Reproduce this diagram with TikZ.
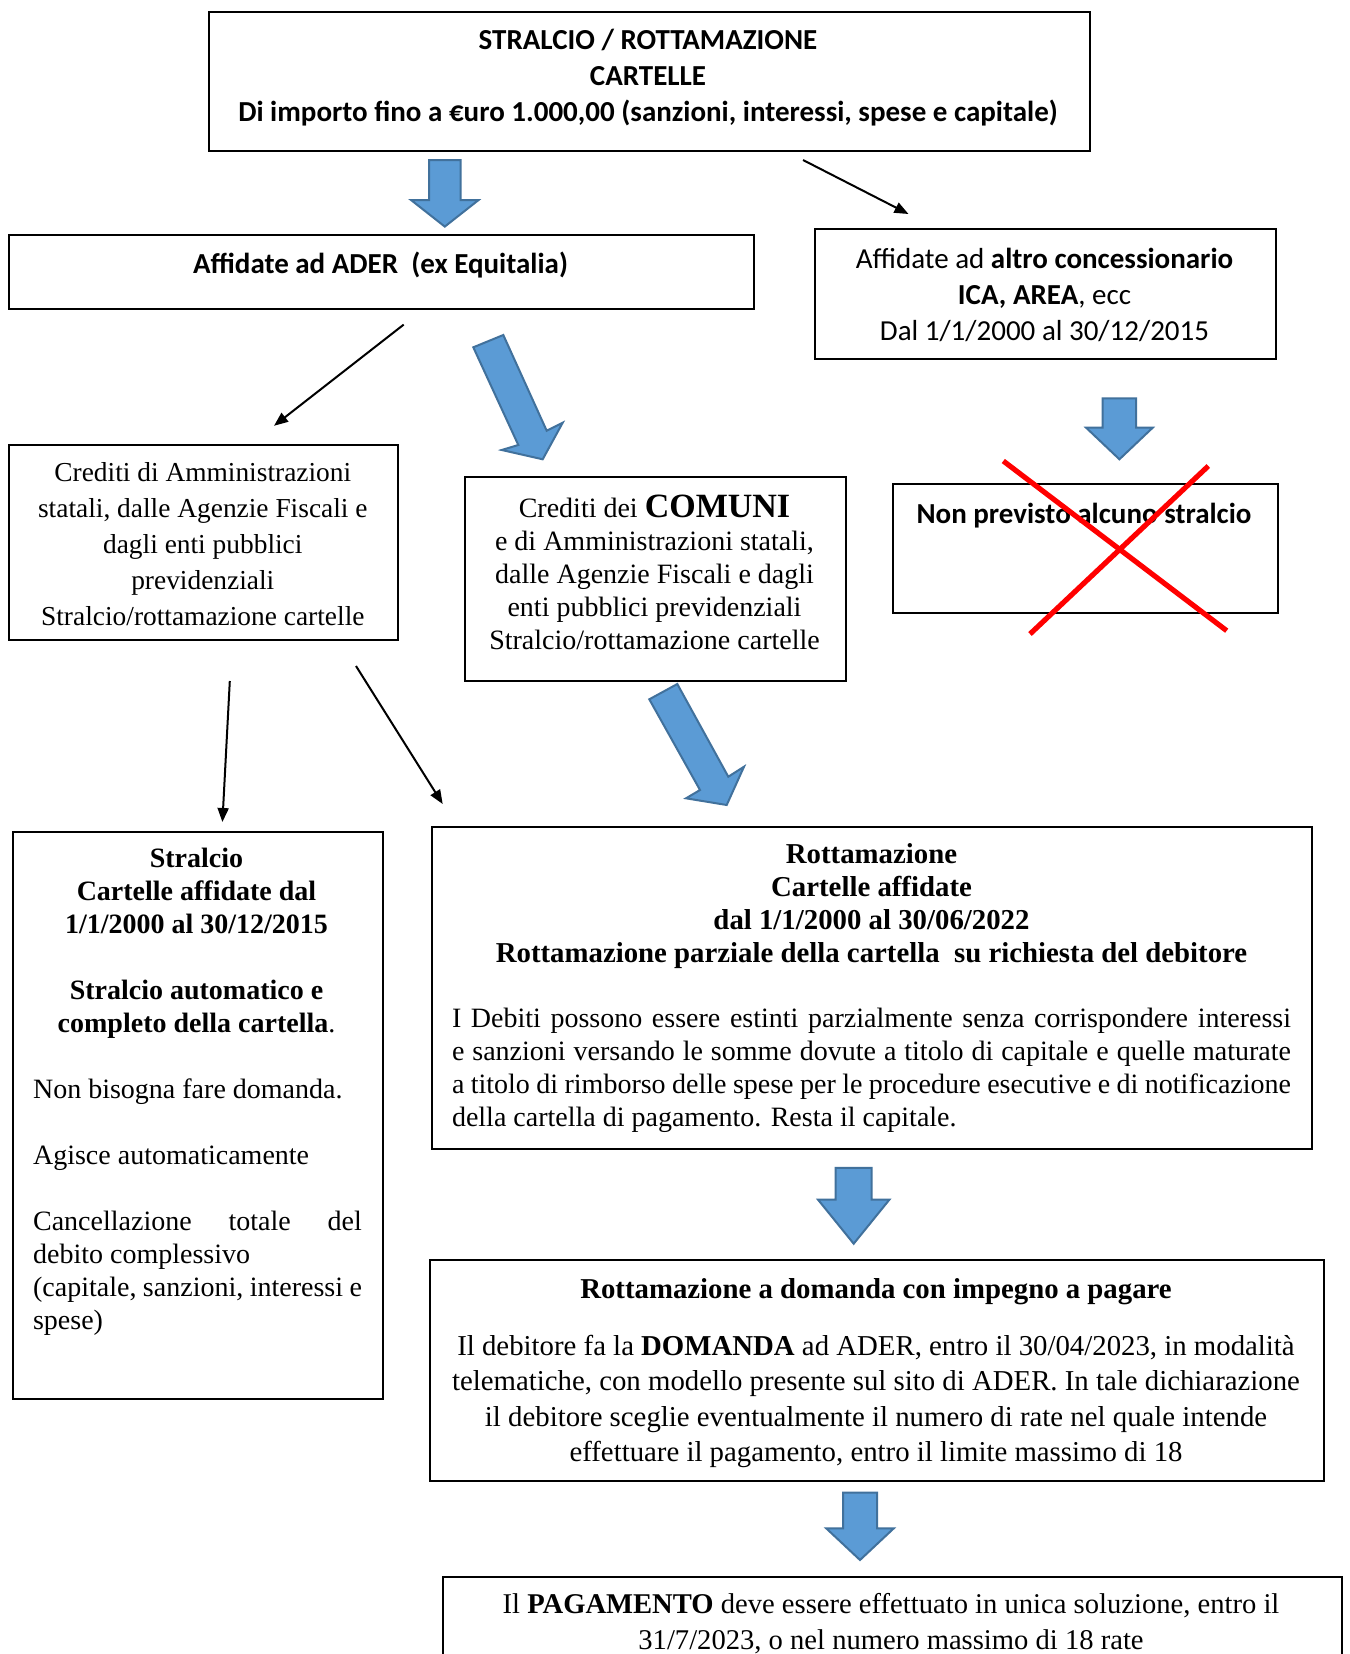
\documentclass[tikz,border=0pt]{standalone}
\usepackage{fontspec}
\setmainfont{Liberation Serif}
\newfontfamily\calfont{Carlito}
\usetikzlibrary{arrows.meta}
\definecolor{blockfill}{HTML}{5B9BD5}
\definecolor{blockline}{HTML}{41719C}
\newcommand{\blockdown}[6]{%
  \draw[barrow] ({#1-#5},#2) -- ({#1+#5},#2) -- ({#1+#5},#3) -- ({#1+#6},#3) -- (#1,#4) -- ({#1-#6},#3) -- ({#1-#5},#3) -- cycle;}
\newcommand{\lines}[1]{\begin{tabular}[t]{@{}c@{}}#1\end{tabular}}
\newcommand{\llines}[1]{\begin{tabular}[t]{@{}l@{}}#1\end{tabular}}
\begin{document}
\begin{tikzpicture}[x=0.5pt,y=-0.5pt,
  box/.style={draw, line width=1pt, inner sep=0pt, anchor=north west},
  txt/.style={inner sep=0pt, anchor=base},
  ltxt/.style={inner sep=0pt, anchor=base west},
  barrow/.style={fill=blockfill, draw=blockline, line width=1pt, line join=miter},
  thin/.style={line width=1pt, -{Triangle[length=7pt,width=5.5pt]}},
  cross/.style={red, line width=2.6pt},
  calb/.style={font=\calfont\bfseries\fontsize{14.5}{18}\selectfont},
  calr/.style={font=\calfont\fontsize{14.5}{18}\selectfont}]
\useasboundingbox (0,0) rectangle (1349,1654);
\clip (0,0) rectangle (1349,1654);
\fill[white] (0,0) rectangle (1349,1654);

% boxes
\node[box, minimum width=440.6pt, minimum height=69.6pt] (top) at (207.6,10.5) {};
\node[box, minimum width=372.1pt, minimum height=36.9pt] (ader) at (8.4,234) {};
\node[box, minimum width=230.8pt, minimum height=65.35pt] (altro) at (813.7,227.7) {};
\node[box, minimum width=194.5pt, minimum height=97.5pt] (cred) at (8.3,444) {};
\node[box, minimum width=190.75pt, minimum height=101.7pt] (comuni) at (463.8,476.4) {};
\node[box, minimum width=192.2pt, minimum height=64.8pt] (nonprev) at (892.3,482.7) {};
\node[box, minimum width=184.95pt, minimum height=283.55pt] (stralcio) at (11.6,830.5) {};
\node[box, minimum width=440pt, minimum height=160.75pt] (rott) at (431,826.3) {};
\node[box, minimum width=446.9pt, minimum height=110.65pt] (domanda) at (429,1258.5) {};
\node[box, minimum width=449.55pt, minimum height=70pt] (pagam) at (441.6,1575.7) {};

% texts
\node[txt, calb] (toptxt) at (648,49) {\lines{STRALCIO / ROTTAMAZIONE\\CARTELLE\\Di importo fino a €uro 1.000,00 (sanzioni, interessi, spese e capitale)}};
\node[txt, calb] (adertxt) at (380.5,273.5) {Affidate ad ADER\ \ (ex Equitalia)};
\node[txt, calr] (altrotxt) at (1044.5,268) {\lines{Affidate ad \textbf{altro concessionario}\\\textbf{ICA, AREA}, ecc\\Dal 1/1/2000 al 30/12/2015}};
\node[txt, font=\fontsize{13.7}{18}\selectfont] (credtxt) at (202.8,481) {\lines{Crediti di Amministrazioni\\statali, dalle Agenzie Fiscali e\\dagli enti pubblici\\previdenziali\\Stralcio/rottamazione cartelle}};
\node[txt, font=\fontsize{14}{16.5}\selectfont] (comunitxt) at (654.5,517) {\lines{Crediti dei {\fontsize{17}{17}\selectfont\bfseries COMUNI}\\e di Amministrazioni statali,\\dalle Agenzie Fiscali e dagli\\enti pubblici previdenziali\\Stralcio/rottamazione cartelle}};
\node[txt, calb] (nonprevtxt) at (1084,523) {Non previsto alcuno stralcio};
\node[txt, font=\bfseries\fontsize{14}{16.5}\selectfont] (strhead) at (196.5,867) {\lines{Stralcio\\Cartelle affidate dal\\1/1/2000 al 30/12/2015\\ \\Stralcio automatico e\\completo della cartella{\mdseries .}}};
\node[ltxt, font=\fontsize{14}{16.5}\selectfont] (strbody) at (32.7,1098.8) {\llines{Non bisogna fare domanda.\\ \\Agisce automaticamente\\ \\\makebox[164.4pt][s]{Cancellazione totale del}\\debito complessivo\\\makebox[164.4pt][s]{(capitale, sanzioni, interessi e}\\spese)}};
\node[txt, font=\fontsize{14}{16.4}\selectfont] (rotttxt) at (871.5,863.7) {\lines{{\fontsize{14.4}{16.4}\selectfont\bfseries Rottamazione}\\{\fontsize{14.4}{16.4}\selectfont\bfseries Cartelle affidate}\\{\fontsize{14.4}{16.4}\selectfont\bfseries dal 1/1/2000 al 30/06/2022}\\{\fontsize{14.4}{16.4}\selectfont\bfseries Rottamazione parziale della cartella\ \ su richiesta del debitore}\\ \\
\makebox[419.5pt][s]{I Debiti possono essere estinti parzialmente senza corrispondere interessi}\\
\makebox[419.5pt][s]{e sanzioni versando le somme dovute a titolo di capitale e quelle maturate}\\
\makebox[419.5pt][s]{a titolo di rimborso delle spese per le procedure esecutive e di notificazione}\\
\makebox[419.5pt][l]{della cartella di pagamento. Resta il capitale.}}};
\node[txt, font=\fontsize{14.4}{17.75}\selectfont] (domtxt) at (876,1298) {\lines{\textbf{Rottamazione a domanda con impegno a pagare}\\[10.75pt]
Il debitore fa la \textbf{DOMANDA} ad ADER, entro il 30/04/2023, in modalità\\
telematiche, con modello presente sul sito di ADER. In tale dichiarazione\\
il debitore sceglie eventualmente il numero di rate nel quale intende\\
effettuare il pagamento, entro il limite massimo di 18}};
\node[txt, font=\fontsize{14.3}{18}\selectfont] (pagtxt) at (891,1613) {\lines{Il \textbf{PAGAMENTO} deve essere effettuato in unica soluzione, entro il\\31/7/2023, o nel numero massimo di 18 rate}};

% red cross
\coordinate (x1a) at (1003.3,461); \coordinate (x1b) at (1226.7,630.7);
\coordinate (x2a) at (1208.3,466); \coordinate (x2b) at (1030,634);
\draw[cross] (x1a) -- (x1b);
\draw[cross] (x2a) -- (x2b);

% thin arrows
\coordinate (a1s) at (803,160); \coordinate (a1e) at (908.5,214);
\coordinate (a2s) at (403.7,324.6); \coordinate (a2e) at (274,425.8);
\coordinate (a3s) at (229.8,681); \coordinate (a3e) at (222.4,822);
\coordinate (a4s) at (356,666); \coordinate (a4e) at (442.7,804);
\draw[thin] (a1s) -- (a1e);
\draw[thin] (a2s) -- (a2e);
\draw[thin] (a3s) -- (a3e);
\draw[thin] (a4s) -- (a4e);

% block arrows
\blockdown{444.8}{160}{200}{226.6}{15.8}{33.8}
\blockdown{1119.4}{398.3}{427.7}{459.3}{16.7}{33.3}
\blockdown{853.7}{1167.8}{1199.5}{1243.7}{18}{35.8}
\blockdown{860}{1492.5}{1528.3}{1560}{17}{33.8}
\draw[barrow] (473.3,347.3) -- (503.3,335) -- (546.7,430.7) -- (562.7,422.7) -- (542.7,459.3) -- (501.7,450) -- (518.3,445) -- cycle;
\draw[barrow] (649.3,699.3) -- (677.3,684) -- (728.3,776.7) -- (744,766.7) -- (726.7,805) -- (686,798.3) -- (700,790) -- cycle;
\end{tikzpicture}
\end{document}
